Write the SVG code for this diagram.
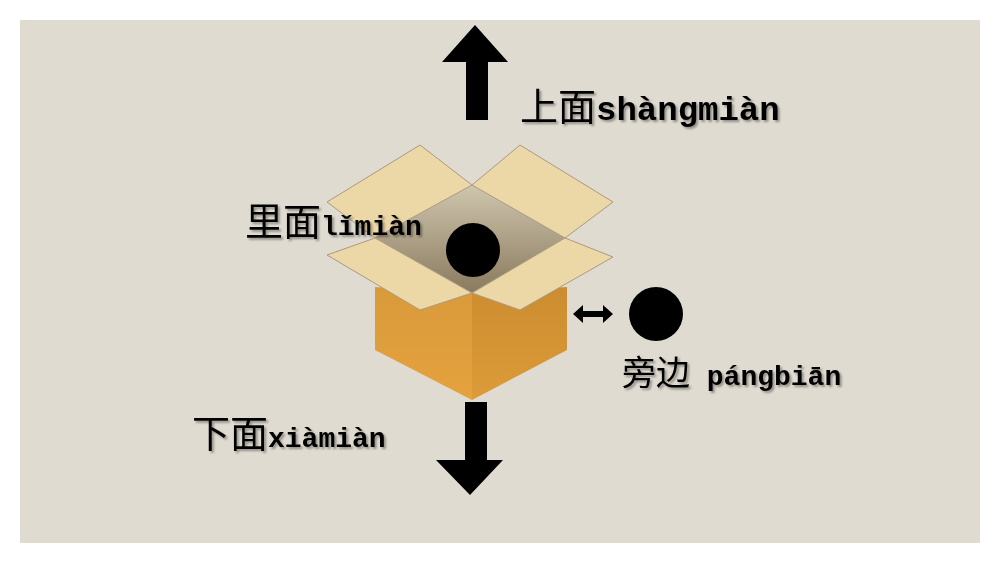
<svg xmlns="http://www.w3.org/2000/svg" width="1000" height="562" viewBox="0 0 1000 562">
<defs>
<linearGradient id="inside" x1="0" y1="0" x2="0" y2="1"><stop offset="0" stop-color="#cfc6ae"/><stop offset="1" stop-color="#8a7a5e"/></linearGradient>
<linearGradient id="fl" x1="0" y1="0" x2="0" y2="1"><stop offset="0" stop-color="#d99a3a"/><stop offset="1" stop-color="#e5a23e"/></linearGradient>
<linearGradient id="fr" x1="0" y1="0" x2="0" y2="1"><stop offset="0" stop-color="#cc8d30"/><stop offset="1" stop-color="#dd9b38"/></linearGradient>
<filter id="sh"><feDropShadow dx="2" dy="2" stdDeviation="1" flood-color="#000" flood-opacity="0.35"/></filter>
</defs>
<style>
.flap{fill:#ecd7a6;stroke:#a99a80;stroke-width:1}
.cn{font-family:"Noto Sans CJK SC",sans-serif;font-size:38px;fill:#000}
.py{font-family:"Liberation Mono",monospace;font-size:28px;font-weight:bold;fill:#000}
.lbl{filter:url(#sh)}
</style>
<rect width="1000" height="562" fill="#fff"/>
<rect x="20" y="20" width="960" height="523" fill="#e0dbd0"/>
<g id="box">
<polygon points="375,238 472,185 565,238 472,293" fill="url(#inside)"/>
<polygon class="flap" points="472,185 375,238 327,202 420,145"/>
<polygon class="flap" points="472,185 565,238 613,202 520,145"/>
<polygon points="375,287 472,293 472,400 375,350" fill="url(#fl)"/>
<polygon points="472,293 567,287 567,350 472,400" fill="url(#fr)"/>
<polygon class="flap" points="375,238 472,293 420,310 327,255"/>
<polygon class="flap" points="565,238 472,293 520,310 613,257"/>
</g>
<circle id="ball-in" cx="473" cy="250" r="27" fill="#000"/>
<circle id="ball-side" cx="656" cy="314" r="27" fill="#000"/>
<g id="arrows" fill="#000">
<polygon points="475,25 508,62 488,62 488,120 466,120 466,62 442,62"/>
<polygon points="465,402 487,402 487,460 503,460 470,495 436,460 465,460"/>
<polygon points="573,314 583,305 583,311 603,311 603,305 613,314 603,323 603,317 583,317 583,323"/>
</g>
<g class="lbl">
<text x="520" y="120"><tspan class="cn">上面</tspan><tspan class="py" style="font-size:34px">shàngmiàn</tspan></text>
<text x="245" y="235"><tspan class="cn">里面</tspan><tspan class="py">lǐmiàn</tspan></text>
<text x="622" y="385"><tspan class="cn" style="font-size:34px">旁边</tspan><tspan class="py"> pángbiān</tspan></text>
<text x="192" y="447"><tspan class="cn">下面</tspan><tspan class="py">xiàmiàn</tspan></text>
</g>
</svg>
